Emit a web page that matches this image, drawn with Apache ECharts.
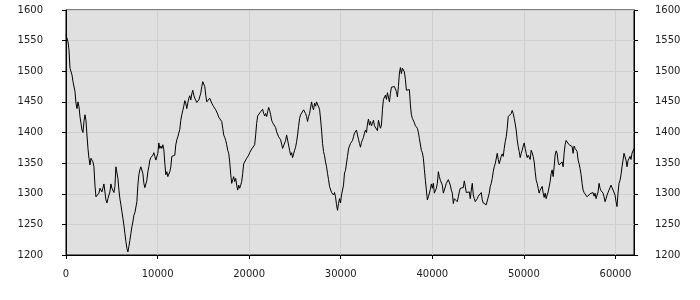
<!DOCTYPE html>
<html>
<head>
<meta charset="utf-8">
<script src="https://cdn.jsdelivr.net/npm/echarts@6/dist/echarts.min.js"></script>
<style>
html,body{margin:0;padding:0;background:#fff;}
#c{width:700px;height:300px;}
</style>
</head>
<body>
<div id="c"></div>
<script>
// x-axis ticks and y-axis ticks
const xTicks = [0, 10000, 20000, 30000, 40000, 50000, 60000];
const yTicks = [1200, 1250, 1300, 1350, 1400, 1450, 1500, 1550, 1600];
// sampling interval of the series along x (units)
const sampleStep = 109;
// series values, one per sample
const values = [
1559,1556,1548,1535,1505,1502,1494,1483,1480,1467,
1448,1439,1450,1442,1426,1415,1404,1400,1418,1429,
1420,1396,1374,1358,1347,1358,1355,1352,1344,1314,
1295,1292,1298,1301,1309,1306,1303,1306,1316,1303,
1290,1285,1292,1298,1303,1316,1309,1306,1302,1312,
1344,1347,1325,1306,1292,1282,1271,1260,1249,1235,
1222,1211,1205,1214,1224,1235,1246,1254,1265,1269,
1271,1287,1314,1331,1339,1344,1345,1333,1317,1310,
1312,1322,1336,1344,1355,1359,1361,1363,1367,1361,
1355,1358,1366,1383,1374,1378,1374,1380,1372,1350,
1331,1336,1328,1325,1336,1344,1361,1363,1361,1363,
1380,1388,1393,1399,1405,
1420,1429,1436,1443,1452,1448,1439,1448,1456,1460,
1453,1463,1469,1461,1456,1453,1449,1452,1453,1456,
1464,1475,1483,1483,1475,1461,1450,1453,1452,1456,
1453,1448,1445,1442,1441,1437,1434,1430,1425,1422,
1423,1418,1407,1396,1392,1387,1380,1371,1366,1352,
1332,1317,1323,1328,1320,1325,1314,1306,1314,1309,
1314,1320,1333,1349,1352,1350,1358,1359,1363,1367,
1370,1373,1371,1373,1380,1396,1415,1427,1430,1429,
1434,1432,1438,1431,1427,1431,1426,1434,1441,1436,
1429,1420,1416,1415,1414,1408,1401,1398,1393,1392,
1388,1381,1374,1373,1374,1387,1396,1399,1396,
1371,1363,1367,1359,1356,
1371,1376,1385,1396,1410,1423,1429,1426,1432,1437,
1439,1431,1426,1418,1426,1431,1434,1450,1441,1437,
1448,1443,1450,1449,1448,1438,1422,1404,1382,1369,
1362,1352,1344,1333,1323,1312,1309,1302,1301,1298,
1302,1295,1282,1273,1284,1292,1285,1298,1301,1314,
1334,1338,1350,1361,1373,1378,1382,1385,1387,1393,
1399,1401,1404,1396,1389,1382,1376,1384,1388,1392,
1399,1404,1400,1414,1422,1412,1418,1411,1415,1420,
1411,1414,1408,1403,1420,1422,1407,1412,1437,1454,
1457,1461,1454,1465,1467,1450,1464,1474,1475,1472,
1475,1472,1467,1458,1475,1497,1506,1496,1505,1502,
1499,1487,1469,1470,
1472,1470,1445,
1429,1423,1422,1416,1411,1408,1407,1400,1390,1389,
1371,1367,1358,1340,1322,1306,1290,1295,1292,1307,
1316,1309,1317,1301,1303,1309,1317,1336,1328,1322,
1325,1314,1301,1306,1309,1317,1320,1323,1322,1314,
1306,1301,
1284,1292,1290,1292,1287,1295,1303,1309,
1306,1312,1310,1321,1312,1302,1305,1301,1303,1292,
1306,1317,1298,1292,1287,1284,1292,1296,1295,1298,
1302,1290,1285,1284,1283,1282,1280,1285,1301,1312,
1317,1325,1336,1344,1349,1352,1366,1356,1349,1355,
1361,1365,1361,1374,1385,1393,1407,1426,1427,1429,
1431,1436,1431,1423,1414,1404,1388,1377,1369,1359,
1366,
1371,1378,1383,1374,1366,1359,1363,1365,1356,1371,
1367,1361,1352,1336,1322,1317,1309,1301,1306,1303,
1312,1301,1294,1301,1292,1298,1303,1306,1320,1333,
1339,1328,1344,1363,1370,1366,1352,1347,1350,1348,
1352,1344,1366,1380,1387,1385,1387,1380,1382,1378,
1377,1366,1378,1374,1377,1369,1355,1349,1341,1331,
1317,1306,1302,1305,1300,1295,1298,1296,1300,1303,
1298,1302,1296,1301,1292,1290,1303,1317,1309,1305,
1303,1301,1295,1287,1292,1298,1302,1306,1309,1314,
1310,1309,1309,1298,1287,1279,1301,1317,1322,1331,
1344,1355,1366,1367,1355,1344,1354,1355,1361,1356,
1366,1369,1374
];

const points = values.map((v, i) => [i * sampleStep, v]);
const xMax = (values.length - 1) * sampleStep;

const font = {fontFamily: 'DejaVu Sans', fontSize: 10, color: '#222'};
const yAxisBase = {
  type: 'value',
  min: yTicks[0],
  max: yTicks[yTicks.length - 1],
  interval: yTicks[1] - yTicks[0],
  axisLine: {show: true, lineStyle: {color: '#000', width: 1}},
  axisTick: {show: true, length: 4, lineStyle: {color: '#000'}},
  axisLabel: Object.assign({formatter: v => String(v)}, font)
};

const chart = echarts.init(document.getElementById('c'), null, {renderer: 'canvas'});
chart.setOption({
  animation: false,
  backgroundColor: '#fff',
  grid: {left: 66, right: 66, top: 10, bottom: 45, show: true,
         backgroundColor: '#e0e0e0', borderColor: '#000', borderWidth: 1},
  xAxis: {
    type: 'value',
    min: xTicks[0],
    max: xMax,
    interval: xTicks[1] - xTicks[0],
    axisLine: {show: true, onZero: false, lineStyle: {color: '#000', width: 1}},
    axisTick: {show: true, length: 4, lineStyle: {color: '#000'}},
    axisLabel: Object.assign({formatter: v => String(v), margin: 14, showMaxLabel: false}, font),
    splitLine: {show: true, lineStyle: {color: '#cfcfcf', width: 1}}
  },
  yAxis: [
    Object.assign({}, yAxisBase, {position: 'left',
      axisLabel: Object.assign({}, yAxisBase.axisLabel, {margin: 23}),
      splitLine: {show: true, lineStyle: {color: '#cfcfcf', width: 1}}}),
    Object.assign({}, yAxisBase, {position: 'right',
      axisLabel: Object.assign({}, yAxisBase.axisLabel, {margin: 21}),
      splitLine: {show: false}})
  ],
  series: [{
    type: 'line',
    data: points,
    showSymbol: false,
    symbol: 'none',
    lineStyle: {color: '#000', width: 1},
    silent: true
  }]
});
</script>
</body>
</html>
